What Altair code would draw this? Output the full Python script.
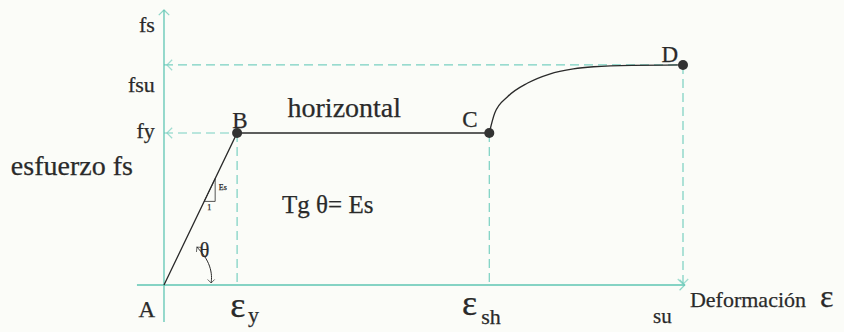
import altair as alt
import pandas as pd

# Characteristic points of the steel stress-strain curve (strain in arbitrary units, stress in MPa)
point_names = ["A", "B", "C", "D"]
point_strain = [0.0, 2.0, 8.9, 14.2]
point_stress = [0.0, 420.0, 420.0, 608.0]

# Strain-hardening branch from C to D
hard_strain = [8.9, 9.05, 9.4, 9.95, 10.55, 11.2, 11.75, 12.8, 14.2]
hard_stress = [420, 475, 520, 558, 583, 597, 603, 607, 608]

# Angle arc marking theta at the origin
arc_strain = [0.90, 1.12, 1.26, 1.31, 1.29]
arc_stress = [105, 80, 52, 25, 5.5]

TEAL = "#5ec6b3"
TEAL_LIGHT = "#79d0c1"
INK = "#2a2a2a"
SERIF = "Liberation Serif"

xs = alt.Scale(domain=[-4.487, 18.605], nice=False, zero=False)
ys = alt.Scale(domain=[-129.9, 787.5], nice=False, zero=False)


def X(field):
    return alt.X(field, type="quantitative", scale=xs, axis=None)


def Y(field):
    return alt.Y(field, type="quantitative", scale=ys, axis=None)


pts = pd.DataFrame({"name": point_names, "x": point_strain, "y": point_stress})
eps_y, eps_sh, eps_su = point_strain[1], point_strain[2], point_strain[3]
fy, fsu = point_stress[1], point_stress[3]

# Coordinate axes
axes = pd.DataFrame({
    "x": [0.0, -0.74], "x2": [0.0, 14.25],
    "y": [-102.0, 0.0], "y2": [760.0, 0.0],
})
axes_layer = alt.Chart(axes).mark_rule(color=TEAL, strokeWidth=1.3).encode(
    x=X("x"), x2="x2", y=Y("y"), y2="y2")

# Dashed reference lines
guides = pd.DataFrame({
    "x": [0.0, 0.0, eps_y, eps_sh, eps_su],
    "x2": [eps_su, eps_y, eps_y, eps_sh, eps_su],
    "y": [fsu, fy, fy, fy, fsu],
    "y2": [fsu, fy, 0.0, 0.0, 0.0],
})
guides_layer = alt.Chart(guides).mark_rule(
    color=TEAL_LIGHT, strokeWidth=1.2, strokeDash=[9, 5]).encode(
    x=X("x"), x2="x2", y=Y("y"), y2="y2")

# Open arrowheads
CHEVRON = "M-1,1L0,0L1,1"
heads = pd.DataFrame({
    "x": [0.0, 14.25, 0.08, 0.08, eps_su],
    "y": [760.0, 0.0, fsu, fy, 2.0],
    "angle": [0, 90, 270, 270, 180],
    "color": [TEAL, TEAL, TEAL_LIGHT, TEAL_LIGHT, TEAL_LIGHT],
})
heads_layer = alt.Chart(heads).mark_point(
    shape=CHEVRON, filled=False, size=110, strokeWidth=1.2).encode(
    x=X("x"), y=Y("y"),
    angle=alt.Angle("angle:Q", scale=None),
    color=alt.Color("color:N", scale=None))

# Elastic branch and yield plateau
plateau = pts.iloc[:3]
linear_layer = alt.Chart(plateau).mark_line(color=INK, strokeWidth=1.3).encode(
    x=X("x"), y=Y("y"), order="x:Q")

hard = pd.DataFrame({"x": hard_strain, "y": hard_stress})
hard_layer = alt.Chart(hard).mark_line(
    color=INK, strokeWidth=1.3, interpolate="monotone").encode(
    x=X("x"), y=Y("y"), order="x:Q")

dots_layer = alt.Chart(pts.iloc[1:]).mark_circle(color="#333333", size=100, opacity=1).encode(
    x=X("x"), y=Y("y"))

# Small slope triangle (rise Es over run 1)
tri = pd.DataFrame({"x": [1.1, 1.4, 1.4, 1.1], "y": [231, 231, 294, 231], "k": [0, 1, 2, 3]})
tri_layer = alt.Chart(tri).mark_line(color=INK, strokeWidth=0.8).encode(
    x=X("x"), y=Y("y"), order="k:Q")

# Theta arc with arrowheads at both ends
arc = pd.DataFrame({"x": arc_strain, "y": arc_stress, "k": range(len(arc_strain))})
arc_layer = alt.Chart(arc).mark_line(color=INK, strokeWidth=1.0, interpolate="basis").encode(
    x=X("x"), y=Y("y"), order="k:Q")
arc_heads = pd.DataFrame({"x": [arc_strain[0], arc_strain[-1]],
                          "y": [arc_stress[0], arc_stress[-1]],
                          "angle": [320, 180]})
arc_heads_layer = alt.Chart(arc_heads).mark_point(
    shape=CHEVRON, filled=False, size=50, strokeWidth=1.0, color=INK).encode(
    x=X("x"), y=Y("y"), angle=alt.Angle("angle:Q", scale=None))

# Text annotations
labels = pd.DataFrame([
    ("fs", -0.25, 699, 22, "right"),
    ("fsu", -0.25, 533, 22, "right"),
    ("fy", -0.25, 406, 22, "right"),
    ("esfuerzo fs", -0.85, 304, 28, "right"),
    ("A", -0.47, -88, 23, "center"),
    ("B", 2.08, 434, 23, "center"),
    ("C", 8.37, 437, 23, "center"),
    ("D", 13.84, 616, 23, "center"),
    ("horizontal", 3.38, 465, 28, "left"),
    ("Tg θ= Es", 3.23, 199, 25, "left"),
    ("θ", 0.98, 77, 20, "left"),
    ("Es", 1.50, 262, 8, "left"),
    ("1", 1.18, 207, 8, "left"),
    ("ε", 1.81, -88, 36, "left"),
    ("y", 2.30, -102, 22, "left"),
    ("ε", 8.15, -83, 36, "left"),
    ("sh", 8.68, -108, 22, "left"),
    ("su", 13.38, -105, 21, "left"),
    ("Deformación", 14.39, -61, 22, "left"),
    ("ε", 17.95, -61, 32, "left"),
], columns=["text", "x", "y", "size", "align"])


def text_layer(align):
    return alt.Chart(labels).transform_filter(
        alt.datum.align == align
    ).mark_text(font=SERIF, color=INK, stroke=INK, strokeWidth=0.25,
                align=align, baseline="alphabetic").encode(
        x=X("x"), y=Y("y"), text="text:N",
        size=alt.Size("size:Q", scale=None))


chart = alt.layer(
    guides_layer, axes_layer, heads_layer, tri_layer, arc_layer, arc_heads_layer,
    linear_layer, hard_layer, dots_layer,
    text_layer("left"), text_layer("right"), text_layer("center"),
).properties(
    width=844, height=332, padding=0, autosize=alt.AutoSizeParams(type="none"),
    background="#fbfcf8",
).configure_view(stroke=None)

chart.save("out.html", embed_options={"renderer": "svg", "actions": False})
